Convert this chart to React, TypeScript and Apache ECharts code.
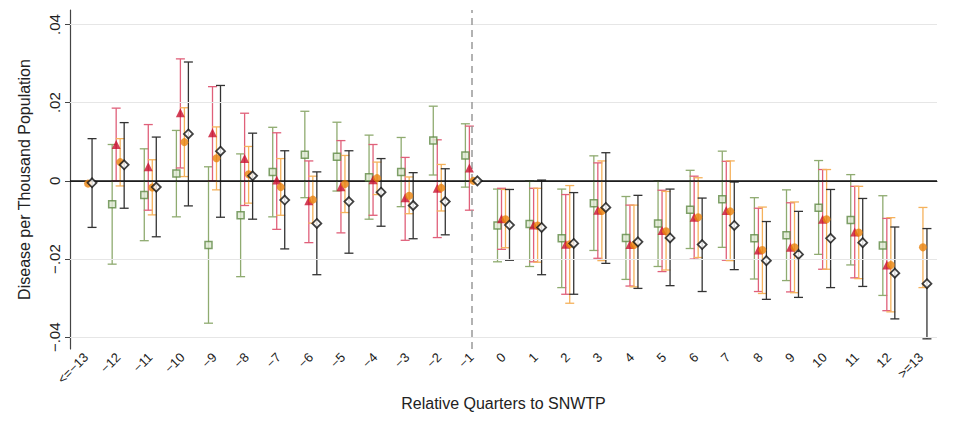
import React, { useEffect, useRef } from 'react';
import * as echarts from 'echarts';

const categories = ['<=-13', '-12', '-11', '-10', '-9', '-8', '-7', '-6', '-5', '-4', '-3', '-2', '-1',
  '0', '1', '2', '3', '4', '5', '6', '7', '8', '9', '10', '11', '12', '>=13'];

type N = number | null;

const greenEst: N[] = [null, -0.006, -0.0036, 0.0019, -0.0164, -0.0088, 0.0023, 0.0067, 0.0062, 0.0009, 0.0023, 0.0103, 0.0065,
  -0.0114, -0.011, -0.0147, -0.0057, -0.0146, -0.0109, -0.0074, -0.0047, -0.0147, -0.0139, -0.0069, -0.01, -0.0165, null];
const greenLo: N[] = [null, -0.0213, -0.0153, -0.0092, -0.0364, -0.0245, -0.0092, -0.0043, -0.0026, -0.0098, -0.0066, 0.0015, -0.0016,
  -0.0207, -0.0219, -0.0273, -0.0178, -0.0252, -0.0219, -0.0173, -0.017, -0.0251, -0.0255, -0.0188, -0.0215, -0.0293, null];
const greenHi: N[] = [null, 0.0093, 0.0082, 0.0129, 0.0036, 0.0069, 0.0137, 0.0178, 0.015, 0.0117, 0.0111, 0.0191, 0.0146,
  -0.0021, 0, -0.0021, 0.0064, -0.004, 0, 0.0027, 0.0076, -0.0043, -0.0023, 0.0052, 0.0016, -0.0038, null];

const redEst: N[] = [null, 0.0093, 0.0036, 0.0174, 0.0123, 0.0057, 0.0002, -0.0051, -0.0015, 0.0003, -0.0043, -0.0019, 0.0033,
  -0.0097, -0.0113, -0.0162, -0.0075, -0.0163, -0.0127, -0.0093, -0.0076, -0.0177, -0.017, -0.0098, -0.0131, -0.0215, null];
const redLo: N[] = [null, 0, -0.0075, 0.0033, 0, -0.0063, -0.0124, -0.0158, -0.0133, -0.0088, -0.0152, -0.0145, -0.0075,
  -0.0175, -0.0207, -0.029, -0.0198, -0.0269, -0.0232, -0.02, -0.0203, -0.0283, -0.0284, -0.0226, -0.0248, -0.0332, null];
const redHi: N[] = [null, 0.0186, 0.0144, 0.0312, 0.0241, 0.0173, 0.0123, 0.0051, 0.0103, 0.0093, 0.006, 0.0105, 0.014,
  -0.0019, -0.0019, -0.0035, 0.0046, -0.0062, -0.0024, 0.0012, 0.005, -0.007, -0.0056, 0.0029, -0.0014, -0.0096, null];

const orangeEst: N[] = [-0.0007, 0.0048, -0.0017, 0.0099, 0.0058, 0.0017, -0.0016, -0.0048, -0.0008, 0.0007, -0.0038, -0.0018, 0,
  -0.0098, -0.0114, -0.0162, -0.0077, -0.0164, -0.0129, -0.0093, -0.0078, -0.0177, -0.017, -0.0098, -0.0132, -0.0215, -0.017];
const orangeLo: N[] = [null, -0.0013, -0.0087, 0.0011, -0.0023, -0.0057, -0.0088, -0.0108, -0.0081, -0.0035, -0.0084, -0.0077, null,
  -0.0171, -0.0208, -0.0313, -0.0204, -0.0271, -0.0228, -0.0196, -0.0204, -0.0288, -0.0286, -0.0226, -0.025, -0.0335, -0.0273];
const orangeHi: N[] = [null, 0.0108, 0.0054, 0.0187, 0.0138, 0.0088, 0.0057, 0.0012, 0.0065, 0.0048, 0.001, 0.0042, null,
  -0.0022, -0.0019, -0.0012, 0.0051, -0.0062, -0.0027, 0.0008, 0.0051, -0.0067, -0.0054, 0.0029, -0.0014, -0.0094, -0.0068];

const blackEst: N[] = [-0.0005, 0.0041, -0.0016, 0.012, 0.0076, 0.0013, -0.0049, -0.0109, -0.0053, -0.0029, -0.0063, -0.0053, 0,
  -0.0113, -0.0119, -0.016, -0.0068, -0.0156, -0.0146, -0.0163, -0.0114, -0.0204, -0.0188, -0.0147, -0.0158, -0.0236, -0.0263];
const blackLo: N[] = [-0.0119, -0.007, -0.0143, -0.0064, -0.0093, -0.0098, -0.0174, -0.024, -0.0185, -0.0116, -0.0148, -0.0138, null,
  -0.0203, -0.024, -0.029, -0.0211, -0.0275, -0.0268, -0.0283, -0.0227, -0.0303, -0.0298, -0.0273, -0.027, -0.0353, -0.0404];
const blackHi: N[] = [0.0108, 0.0149, 0.0112, 0.0304, 0.0244, 0.0122, 0.0077, 0.0023, 0.0077, 0.0057, 0.0021, 0.0031, null,
  -0.0022, 0.0002, -0.003, 0.0072, -0.0037, -0.0021, -0.0044, -0.0003, -0.0104, -0.0078, -0.0022, -0.0045, -0.0118, -0.0122];

const yTicks = [-0.04, -0.02, 0, 0.02, 0.04];

const fmt = (v: number) => {
  if (Math.abs(v) < 1e-9) return '0';
  return v.toFixed(2).replace('0.', '.').replace('-', '\u2212');
};

const errorBars = (lo: N[], hi: N[], dx: number, color: string) => ({
  type: 'custom',
  z: 2,
  renderItem: (params: any, api: any) => {
    const a = api.coord([api.value(0), api.value(1)]);
    const b = api.coord([api.value(0), api.value(2)]);
    const x = a[0] + dx;
    const w = 4.5;
    const style = { stroke: color, lineWidth: 1.3 };
    return {
      type: 'group',
      children: [
        { type: 'line', shape: { x1: x, y1: a[1], x2: x, y2: b[1] }, style },
        { type: 'line', shape: { x1: x - w, y1: a[1], x2: x + w, y2: a[1] }, style },
        { type: 'line', shape: { x1: x - w, y1: b[1], x2: x + w, y2: b[1] }, style },
      ],
    };
  },
  data: lo.map((l, i) => (l == null || hi[i] == null ? null : [i, l, hi[i]])).filter(d => d),
});

const points = (est: N[], dx: number, symbol: string, size: number, itemStyle: any) => ({
  type: 'scatter',
  z: 5,
  symbol,
  symbolSize: size,
  symbolOffset: [dx, 0],
  itemStyle,
  data: est.map((v, i) => (v == null ? null : [i, v])).filter(d => d),
});

export default function App() {
  const ref = useRef<HTMLDivElement>(null);

  useEffect(() => {
    if (!ref.current) return;
    const chart = echarts.init(ref.current, null, { renderer: 'svg' });
    const font = 'Liberation Sans';

    chart.setOption({
      animation: false,
      textStyle: { fontFamily: font },
      grid: { left: 55, right: 11, top: 2, bottom: 59 },
      xAxis: {
        type: 'category',
        data: categories,
        boundaryGap: true,
        name: 'Relative Quarters to SNWTP',
        nameLocation: 'middle',
        nameGap: 46,
        nameTextStyle: { fontSize: 16, color: '#222', fontFamily: font },
        axisLine: { lineStyle: { color: '#444', width: 1.2 } },
        axisTick: { alignWithLabel: true, lineStyle: { color: '#444' } },
        axisLabel: {
          rotate: 45, interval: 0, color: '#222', fontSize: 13, fontFamily: font, margin: 6,
          formatter: (v: string) => v.replace('-', '\u2212'),
        },
      },
      yAxis: {
        type: 'value',
        min: -0.043,
        max: 0.0437,
        name: 'Disease per Thousand Population',
        nameLocation: 'middle',
        nameGap: 38,
        nameTextStyle: { fontSize: 16, color: '#222', fontFamily: font },
        axisLine: { show: true, lineStyle: { color: '#444', width: 1.2 } },
        axisTick: { show: true, customValues: yTicks, lineStyle: { color: '#444' } },
        axisLabel: {
          customValues: yTicks, rotate: 90, color: '#222', fontSize: 15, fontFamily: font,
          formatter: (v: number) => fmt(v),
        },
        splitLine: { show: false },
      },
      series: [
        {
          type: 'line',
          data: [],
          markLine: {
            silent: true,
            symbol: 'none',
            label: { show: false },
            data: [
              ...yTicks.filter(v => v !== 0).map(v => ({ yAxis: v, lineStyle: { color: '#e6e6e6', width: 1, type: 'solid' } })),
              { yAxis: 0, lineStyle: { color: '#111', width: 1.5, type: 'solid' } },
              { xAxis: '-1', lineStyle: { color: '#999', width: 1.5, type: [7, 5] } },
            ],
          },
        },
        errorBars(greenLo, greenHi, -6, '#8fab70'),
        errorBars(redLo, redHi, -2, '#e0607a'),
        errorBars(orangeLo, orangeHi, 2, '#f5b25c'),
        errorBars(blackLo, blackHi, 6, '#333333'),
        points(greenEst, -6, 'rect', 7, { color: '#dfe8d3', borderColor: '#5f8a45', borderWidth: 1.5 }),
        points(redEst, -2, 'triangle', 9, { color: '#c8102e' }),
        points(orangeEst, 2, 'circle', 8, { color: '#e8820c' }),
        points(blackEst, 6, 'diamond', 9, { color: '#ffffff', borderColor: '#111', borderWidth: 1.8 }),
      ],
    });

    return () => chart.dispose();
  }, []);

  return <div ref={ref} style={{ width: 940, height: 408 }} />;
}
